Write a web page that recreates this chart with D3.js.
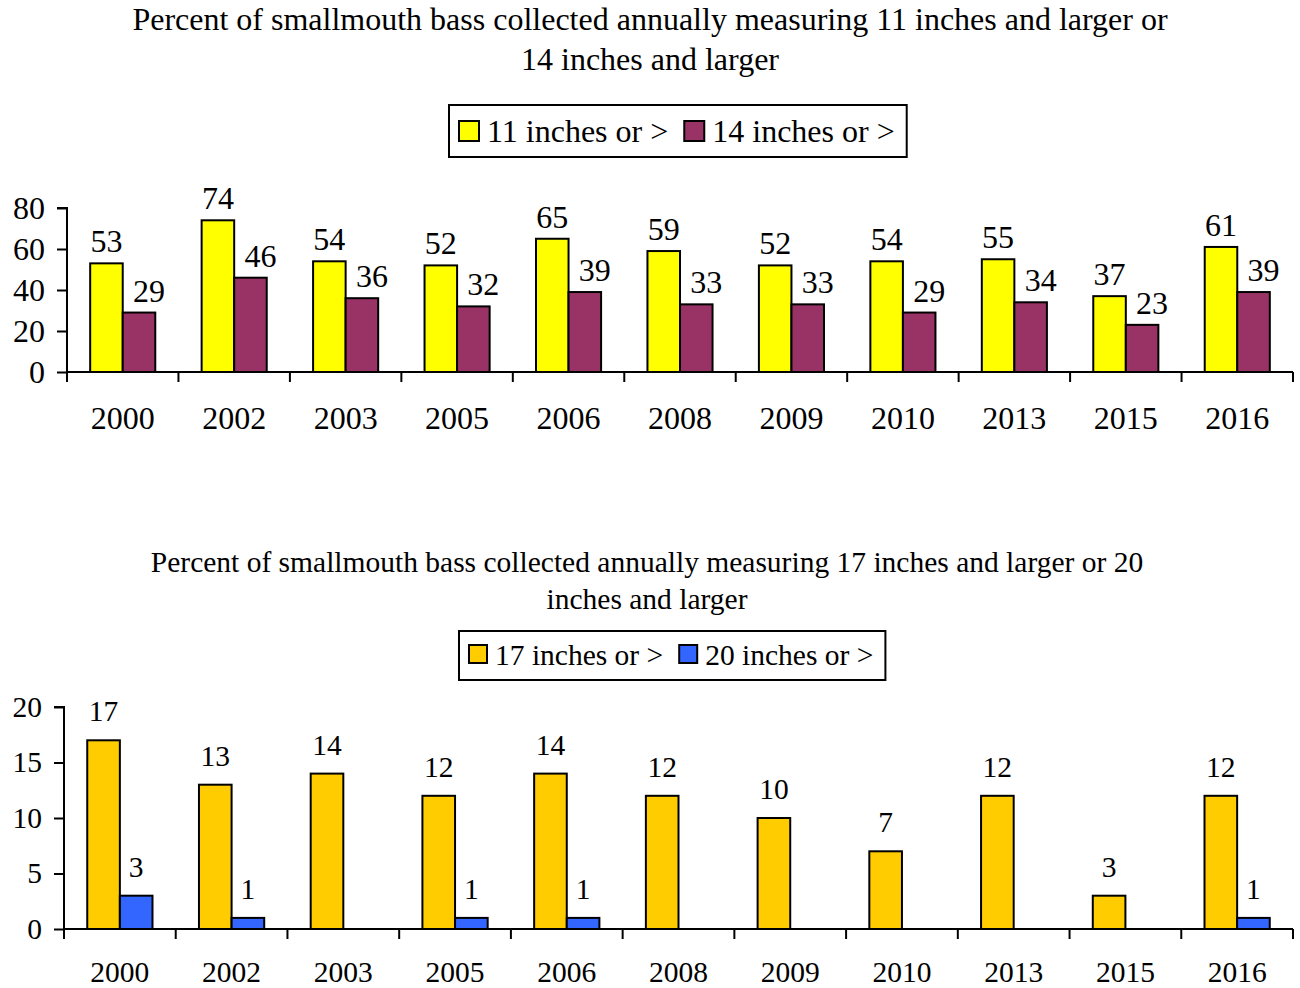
<!DOCTYPE html>
<html><head><meta charset="utf-8">
<script src="https://cdn.jsdelivr.net/npm/d3@7"></script>
<style>body{margin:0;background:#fff}svg{display:block}text{font-family:"Liberation Serif","Times New Roman",serif;fill:#000}</style>
</head><body>
<script>
const years = ["2000","2002","2003","2005","2006","2008","2009","2010","2013","2015","2016"];
const pct11 = [53,74,54,52,65,59,52,54,55,37,61];
const pct14 = [29,46,36,32,39,33,33,29,34,23,39];
const pct17 = [17,13,14,12,14,12,10,7,12,3,12];
const pct20 = [3,1,null,1,1,null,null,null,null,null,1];
const ticksTop = [0,20,40,60,80];
const ticksBottom = [0,5,10,15,20];
const titleTop = ["Percent of smallmouth bass collected annually measuring 11 inches and larger or","14 inches and larger"];
const titleBottom = ["Percent of smallmouth bass collected annually measuring 17 inches and larger or 20","inches and larger"];
const seriesTop = [{name:"11 inches or >", values:pct11, color:"#FFFF00"},{name:"14 inches or >", values:pct14, color:"#993366"}];
const seriesBottom = [{name:"17 inches or >", values:pct17, color:"#FFCC00"},{name:"20 inches or >", values:pct20, color:"#3366FF"}];

const svg = d3.select("body").append("svg").attr("width",1300).attr("height",988);

function chart(cfg){
  const g = svg.append("g");
  const fs = cfg.fs;
  cfg.title.forEach((t,i)=>{
    g.append("text").attr("x",cfg.titleX).attr("y",cfg.titleY + i*cfg.titleLH)
      .attr("text-anchor","middle").attr("font-size",fs).text(t);
  });
  const lg = g.append("g");
  let x = cfg.legX + 10;
  cfg.series.forEach((s,i)=>{
    lg.append("rect").attr("x",x).attr("y",cfg.legSwY).attr("width",cfg.sw).attr("height",cfg.sw)
      .attr("fill",s.color).attr("stroke","#000").attr("stroke-width",2);
    const t = lg.append("text").attr("x",x+cfg.sw+8).attr("y",cfg.legTextY).attr("font-size",fs).text(s.name);
    x = x + cfg.sw + 8 + t.node().getComputedTextLength() + 16;
  });
  const legW = x - 16 + 12 - cfg.legX;
  lg.insert("rect",":first-child").attr("x",cfg.legX).attr("y",cfg.legY).attr("width",legW).attr("height",cfg.legH)
    .attr("fill","#fff").attr("stroke","#000").attr("stroke-width",2);

  const xs = d3.scaleBand().domain(years).range([cfg.x0,cfg.x1]).paddingInner(0).paddingOuter(0);
  const ys = d3.scaleLinear().domain(cfg.yDomain).range([cfg.yBottom,cfg.yTop]);
  const bw = xs.bandwidth()*0.292;
  const sub = d3.scaleBand().domain(cfg.series.map((s,i)=>i)).range([xs.bandwidth()/2-bw, xs.bandwidth()/2+bw]);

  const ya = d3.axisLeft(ys).tickValues(cfg.yTicks).tickSize(10).tickPadding(cfg.yPad);
  const yg = g.append("g").attr("transform",`translate(${cfg.x0},0)`).call(ya);
  yg.selectAll("path,line").attr("stroke","#000").attr("stroke-width",2);
  yg.select(".domain").attr("d",`M-10,${cfg.yTop}H0V${cfg.yBottom}`);
  yg.selectAll("text").attr("font-size",fs).attr("fill","#000");

  cfg.series.forEach((s,si)=>{
    const data = years.map((y,i)=>({y, v:s.values[i]})).filter(d=>d.v!=null);
    g.selectAll(null).data(data).enter().append("rect")
      .attr("x",d=>xs(d.y)+sub(si)).attr("width",sub.bandwidth())
      .attr("y",d=>ys(d.v)).attr("height",d=>ys(0)-ys(d.v))
      .attr("fill",s.color).attr("stroke","#000").attr("stroke-width",2);
    g.selectAll(null).data(data).enter().append("text")
      .attr("x",d=>xs(d.y)+sub(si)+sub.bandwidth()/2 + (si===1 ? cfg.labDx : 0))
      .attr("y",d=>ys(d.v)-cfg.labOff)
      .attr("text-anchor","middle").attr("font-size",fs).text(d=>d.v);
  });

  const xg = g.append("g").attr("transform",`translate(0,${cfg.yBottom})`);
  xg.append("line").attr("x1",cfg.x0).attr("x2",cfg.x1).attr("stroke","#000").attr("stroke-width",2);
  const bounds = years.map(y=>xs(y)).concat([cfg.x1]);
  xg.selectAll(null).data(bounds).enter().append("line")
    .attr("x1",d=>d).attr("x2",d=>d).attr("y1",0).attr("y2",10).attr("stroke","#000").attr("stroke-width",2);
  xg.selectAll(null).data(years).enter().append("text")
    .attr("x",d=>xs(d)+xs.bandwidth()/2).attr("y",cfg.xLabY)
    .attr("text-anchor","middle").attr("font-size",fs).text(d=>d);
}

chart({series:seriesTop, title:titleTop, fs:32, titleX:650, titleY:30, titleLH:40,
  legX:449, legY:105, legH:52, legSwY:121, legTextY:142, sw:20,
  x0:67, x1:1293, yTop:208, yBottom:372, yDomain:[0,80], yTicks:ticksTop, yPad:12, labOff:11, labDx:10, xLabY:57});
chart({series:seriesBottom, title:titleBottom, fs:29.5, titleX:647, titleY:572, titleLH:37,
  legX:459, legY:631, legH:49, legSwY:645, legTextY:665, sw:18,
  x0:64, x1:1293, yTop:707, yBottom:929, yDomain:[0,20], yTicks:ticksBottom, yPad:12, labOff:19, labDx:0, xLabY:53});
</script>
</body></html>
